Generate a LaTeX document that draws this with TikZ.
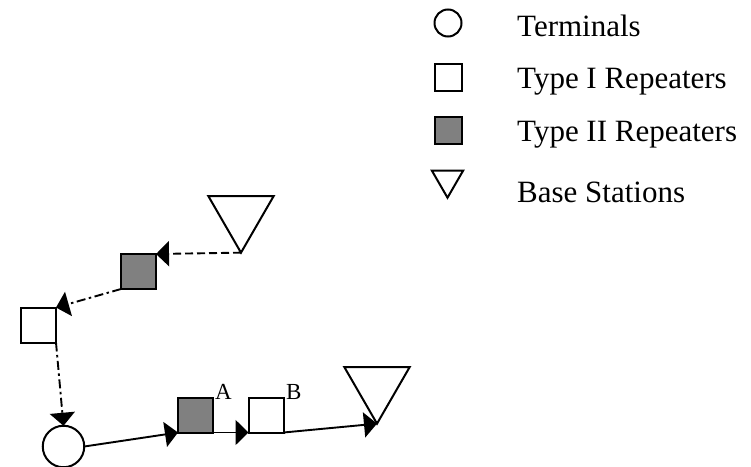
\documentclass[tikz,border=0pt]{standalone}
\usepackage{fontspec}
\setmainfont{Liberation Serif}
\usetikzlibrary{arrows.meta,shapes.geometric}
\begin{document}
\begin{tikzpicture}[x=1pt,y=-1pt,
  shp/.style={draw=black,line width=2pt,inner sep=0pt,outer sep=0pt},
  term/.style={shp,circle,minimum size=#1},
  rep1/.style={shp,rectangle,fill=white,minimum size=#1},
  rep2/.style={shp,rectangle,fill=black!50,minimum size=#1},
  bst/.style={shp,regular polygon,regular polygon sides=3,shape border rotate=180,minimum size=#1},
  link/.style={line width=1.9pt,-{Triangle[length=13pt,width=25pt]}},
  dsh/.style={link,dash pattern=on 8pt off 4pt},
  dshdot/.style={link,dash pattern=on 9pt off 3.5pt on 2.5pt off 3.5pt},
  lgd/.style={anchor=base west,inner sep=0pt,font=\fontsize{31}{36}\selectfont},
  lab/.style={anchor=base west,inner sep=0pt,font=\fontsize{23}{27}\selectfont}]
\useasboundingbox (0,0) rectangle (751,466);
% network
\node[bst=75.5] (bs1) at (241,214.9) {};
\node[rep2=35] (r2a) at (138.5,271.5) {};
\node[rep1=35] (r1a) at (38.5,325) {};
\node[term=41.5] (t) at (63.5,446.5) {};
\node[rep2=35] (r2b) at (195.5,415) {};
\node[rep1=35] (r1b) at (266,415) {};
\node[bst=75.5] (bs2) at (377,385.9) {};
\node[lab] (la) at (215,399) {A};
\node[lab] (lb) at (286,399) {B};
% connectors
\draw[dsh] (bs1.corner 1) -- (r2a.north east);
\draw[dshdot] (r2a.south west) -- (r1a.north east);
\draw[dshdot] (r1a.south east) -- (t.north);
\draw[link] (t.east) -- (r2b.south west);
\draw[link] (r2b.south east) -- (r1b.south west);
\draw[link] (r1b.south east) -- (bs2.corner 1);
% legend
\node[term=27] (lt) at (448,23) {};
\node[rep1=27] (l1) at (448,77.5) {};
\node[rep2=27] (l2) at (448,130.5) {};
\node[bst=36] (l3) at (447.5,179.7) {};
\node[lgd] (tt) at (517,36) {Terminals};
\node[lgd] (t1) at (517,88) {Type I Repeaters};
\node[lgd] (t2) at (517,141) {Type II Repeaters};
\node[lgd] (t3) at (517,202) {Base Stations};
\end{tikzpicture}
\end{document}
